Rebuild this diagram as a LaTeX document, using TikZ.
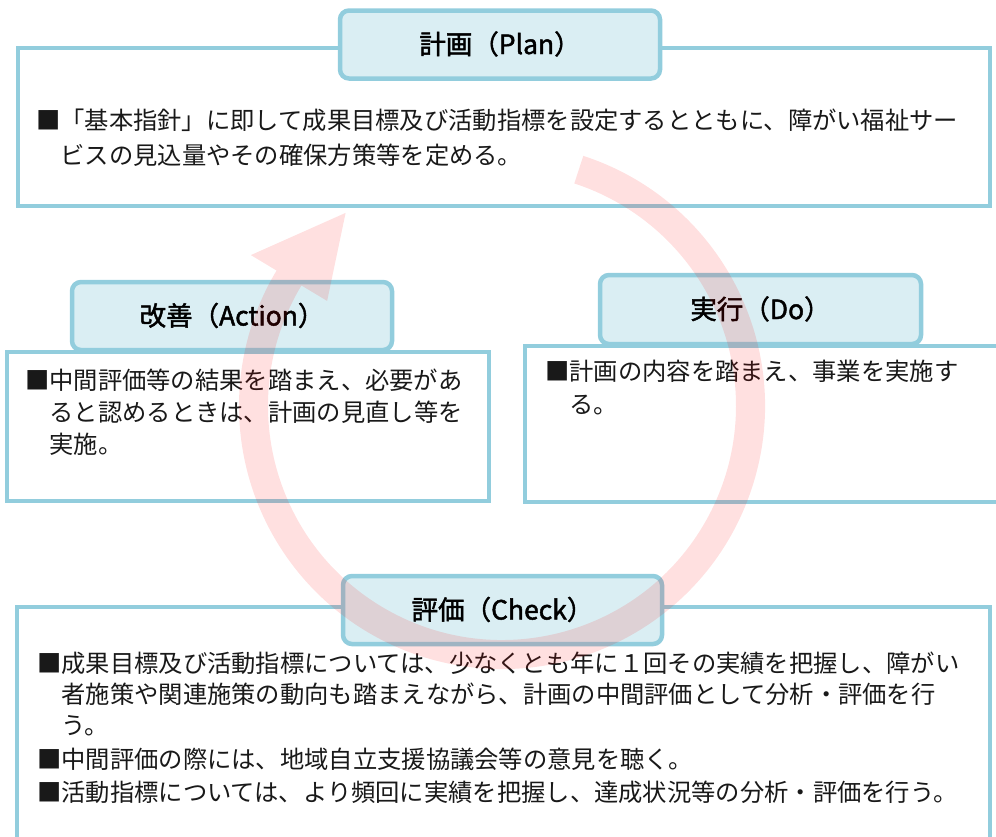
\documentclass[tikz,border=0pt]{standalone}
\usepackage{fontspec}
\setmainfont{Noto Sans CJK JP}
\newfontfamily\ttlfont{Noto Sans CJK JP}[FakeBold=1.7]
\usetikzlibrary{calc}
\definecolor{boxblue}{RGB}{146,205,221}
\definecolor{titlefill}{RGB}{218,238,243}
\definecolor{txt}{RGB}{25,25,25}
\begin{document}
\begin{tikzpicture}[x=1pt,y=-1pt,
  contentbox/.style={draw=boxblue, line width=3.2pt, fill=white, rectangle, inner sep=0pt},
  titlebox/.style={draw=boxblue, line width=4.5pt, fill=titlefill, rounded corners=9pt,
    inner sep=0pt, minimum width=320pt, minimum height=68pt,
    font=\ttlfont\fontsize{26.5}{30}\selectfont, text height=22pt, text depth=3pt},
  bodyline/.style={anchor=base west, inner sep=0pt, font=\fontsize{24.3}{30}\selectfont, text=txt},
  cyclearrow/.style={fill=red, fill opacity=0.12}
]
\useasboundingbox (0,0) rectangle (996,836);
\clip (0,0) rectangle (996,836);

% Plan
\node[contentbox, minimum width=972pt, minimum height=158pt] (planbox) at (504,127) {};
\node[titlebox] (plantitle) at (500,44.5) {計画（Plan）};
\node[bodyline] (p1) at (36,129.5) {■「基本指針」に即して成果目標及び活動指標を設定するとともに、障がい福祉サー};
\node[bodyline] (p2) at (60.3,164) {ビスの見込量やその確保方策等を定める。};

% Action
\node[contentbox, minimum width=482pt, minimum height=149pt] (actbox) at (248,426.5) {};
\node[titlebox] (acttitle) at (232,316) {改善（Action）};
\node[bodyline] (a1) at (25,389) {■中間評価等の結果を踏まえ、必要があ};
\node[bodyline] (a2) at (49.3,421) {ると認めるときは、計画の見直し等を};
\node[bodyline] (a3) at (49.3,453) {実施。};

% Do
\node[contentbox, minimum width=480pt, minimum height=156pt] (dobox) at (765,424) {};
\node[titlebox, minimum width=321pt, minimum height=69pt] (dotitle) at (760.5,309.5) {実行（Do）};
\node[bodyline] (d1) at (545,380) {■計画の内容を踏まえ、事業を実施す};
\node[bodyline] (d2) at (569.3,413) {る。};

% Check
\node[contentbox, minimum width=973pt, minimum height=253pt] (chkbox) at (503.5,733.5) {};
\node[titlebox, minimum width=319pt] (chktitle) at (502.5,610) {評価（Check）};
\node[bodyline] (c1) at (37,672) {■成果目標及び活動指標については、少なくとも年に１回その実績を把握し、障がい};
\node[bodyline] (c2) at (61.3,703.5) {者施策や関連施策の動向も踏まえながら、計画の中間評価として分析・評価を行};
\node[bodyline] (c3) at (61.3,734.5) {う。};
\node[bodyline] (c4) at (37,768.5) {■中間評価の際には、地域自立支援協議会等の意見を聴く。};
\node[bodyline] (c5) at (37,801) {■活動指標については、より頻回に実績を把握し、達成状況等の分析・評価を行う。};

% circular arrow
\coordinate (cyc) at (502,406);
\fill[cyclearrow] ($(cyc)+(-72:263)$) arc[start angle=-72, end angle=211, radius=263]
  -- ($(cyc)+(211:293)$) -- ($(cyc)+(231:248.5)$) -- ($(cyc)+(211:204)$)
  -- ($(cyc)+(211:234)$) arc[start angle=211, end angle=-72, radius=234] -- cycle;
\end{tikzpicture}
\end{document}
